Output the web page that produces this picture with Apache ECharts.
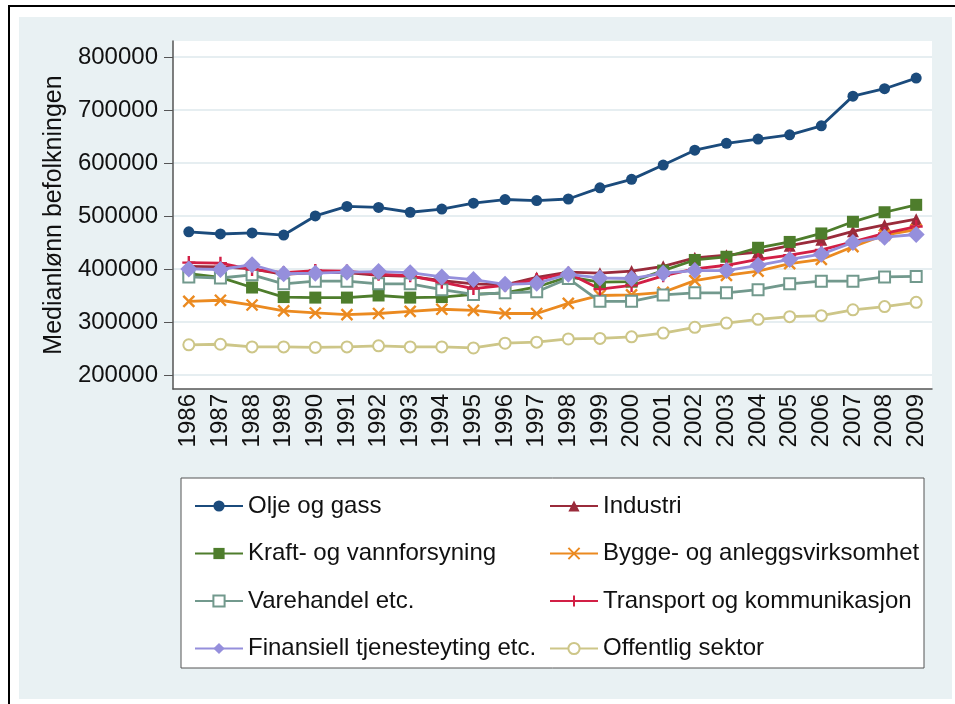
<!DOCTYPE html>
<html>
<head>
<meta charset="utf-8">
<script src="https://cdn.jsdelivr.net/npm/echarts@6/dist/echarts.min.js"></script>
<style>
  html, body { margin: 0; padding: 0; background: #fff; }
  #chart { width: 955px; height: 704px; }
</style>
</head>
<body>
<div id="chart"></div>
<script>
// år
var years = ['1986','1987','1988','1989','1990','1991','1992','1993','1994','1995','1996','1997',
             '1998','1999','2000','2001','2002','2003','2004','2005','2006','2007','2008','2009'];
var yTicks = [200000, 300000, 400000, 500000, 600000, 700000, 800000];

// medianlønn per næring
var olje       = [470000,466000,468000,464000,500000,518000,516000,507000,513000,524000,531000,529000,
                  532000,553000,569000,596000,624000,637000,645000,653000,670000,726000,740000,760000];
var industri   = [405000,404000,400000,390000,393000,393000,388000,386000,378000,372000,370000,384000,
                  394000,392000,396000,405000,421000,426000,432000,444000,455000,471000,483000,494000];
var kraft      = [391000,384000,365000,347000,346000,346000,350000,346000,347000,352000,355000,366000,
                  385000,375000,376000,397000,417000,423000,440000,451000,467000,489000,507000,521000];
var bygge      = [339000,341000,332000,321000,317000,314000,316000,320000,324000,322000,316000,316000,
                  335000,350000,351000,356000,378000,388000,396000,410000,418000,442000,464000,474000];
var varehandel = [385000,383000,389000,372000,377000,377000,372000,372000,361000,352000,355000,357000,
                  382000,339000,339000,351000,355000,355000,361000,372000,377000,377000,385000,386000];
var transport  = [412000,411000,399000,393000,397000,396000,390000,387000,375000,363000,369000,380000,
                  392000,362000,369000,387000,400000,407000,418000,426000,436000,451000,467000,480000];
var finansiell = [400000,399000,408000,391000,392000,394000,395000,393000,385000,380000,371000,373000,
                  390000,383000,382000,392000,397000,397000,407000,418000,428000,450000,460000,465000];
var offentlig  = [257000,258000,253000,253000,252000,253000,255000,253000,253000,251000,260000,262000,
                  268000,269000,272000,279000,290000,298000,305000,310000,312000,323000,329000,337000];

var FONT = 'Liberation Sans, Arial, sans-serif';
var chart = echarts.init(document.getElementById('chart'));

function line(name, data, color, symbol, size, border) {
    return {
        name: name,
        type: 'line',
        data: data,
        symbol: symbol,
        symbolSize: size,
        showAllSymbol: true,
        animation: false,
        lineStyle: { color: color, width: 2.8 },
        itemStyle: { color: color, borderColor: color, borderWidth: border || 0 }
    };
}

var legendText = { fontSize: 24, color: '#111', lineHeight: 24 };

var option = {
    backgroundColor: '#fff',
    textStyle: { fontFamily: FONT },
    graphic: [
        // ramme og lys bakgrunn
        { type: 'rect', z: -10, shape: { x: 19, y: 17, width: 933, height: 682 }, style: { fill: '#e9f1f3' } },
        { type: 'line', z: -9, shape: { x1: 8, y1: 6, x2: 955, y2: 6 }, style: { stroke: '#000', lineWidth: 2 } },
        { type: 'line', z: -9, shape: { x1: 9, y1: 6, x2: 9, y2: 704 }, style: { stroke: '#000', lineWidth: 2 } },
        // legendeboks
        { type: 'rect', z: -5, shape: { x: 181, y: 478, width: 743, height: 190 },
          style: { fill: '#fff', stroke: '#555', lineWidth: 1 } }
    ],
    grid: {
        left: 173, right: 23, top: 41, bottom: 315,
        show: true, backgroundColor: '#fff', borderWidth: 0
    },
    legend: [
        {
            left: 189, top: 489, orient: 'vertical',
            itemWidth: 48, itemHeight: 14, itemGap: 23.5,
            selectedMode: false,
            textStyle: legendText,
            data: ['Olje og gass', 'Kraft- og vannforsyning', 'Varehandel etc.', 'Finansiell tjenesteyting etc.']
        },
        {
            left: 544, top: 489, orient: 'vertical',
            itemWidth: 48, itemHeight: 14, itemGap: 23.5,
            selectedMode: false,
            textStyle: legendText,
            data: ['Industri', 'Bygge- og anleggsvirksomhet', 'Transport og kommunikasjon', 'Offentlig sektor']
        }
    ],
    xAxis: {
        type: 'category',
        data: years,
        boundaryGap: true,
        axisLine: { lineStyle: { color: '#555', width: 1.5 } },
        axisTick: { alignWithLabel: true, length: 8, lineStyle: { color: '#555' } },
        axisLabel: { rotate: 90, fontSize: 24, color: '#111', margin: 5, interval: 0 },
        splitLine: { show: false }
    },
    yAxis: {
        type: 'value',
        min: 173600,
        max: 830000,
        name: 'Medianlønn befolkningen',
        nameLocation: 'middle',
        nameRotate: 90,
        nameGap: 99,
        nameTextStyle: { fontSize: 25, color: '#111' },
        axisLine: { show: true, lineStyle: { color: '#555', width: 1.5 } },
        axisTick: { show: true, length: 9, customValues: yTicks, lineStyle: { color: '#555' } },
        axisLabel: {
            fontSize: 24, color: '#111', margin: 15, customValues: yTicks,
            formatter: function (v) { return String(v); }
        },
        splitLine: { show: true, lineStyle: { color: '#e6eef1', width: 2 } }
    },
    series: [
        line('Olje og gass', olje, '#1b4b7c', 'circle', 11),
        line('Industri', industri, '#9a2b3b', 'triangle', 12),
        line('Kraft- og vannforsyning', kraft, '#4e7d2c', 'rect', 12),
        line('Bygge- og anleggsvirksomhet', bygge, '#eb8a20', 'path://M0,0L10,10M10,0L0,10', 11, 2.4),
        line('Varehandel etc.', varehandel, '#72998d', 'emptyRect', 11, 2),
        line('Transport og kommunikasjon', transport, '#d21f45', 'path://M5,0L5,10M0,5L10,5', 13, 2.4),
        line('Finansiell tjenesteyting etc.', finansiell, '#958fdc', 'diamond', 17),
        line('Offentlig sektor', offentlig, '#cdc688', 'emptyCircle', 11, 2)
    ]
};
chart.setOption(option);
</script>
</body>
</html>
